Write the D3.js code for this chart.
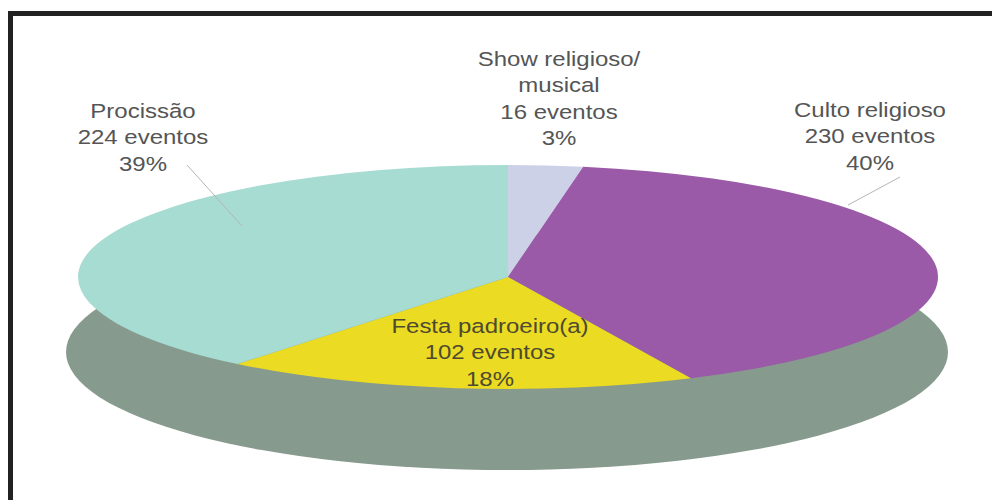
<!DOCTYPE html>
<html>
<head>
<meta charset="utf-8">
<script src="https://cdn.jsdelivr.net/npm/d3@7"></script>
<style>
  html, body { margin: 0; padding: 0; background: #fff; }
  svg { display: block; }
  text { font-family: "Liberation Sans", Arial, sans-serif; }
</style>
</head>
<body>
<svg id="chart" width="992" height="500"></svg>
<script>
// ---- Data ----
const categories = ["Show religioso/\nmusical", "Culto religioso", "Festa padroeiro(a)", "Procissão"];
const values = [16, 230, 102, 224];
const unitLabel = "eventos";
const colors = ["#cdd1e8", "#9a5aa8", "#ebdb22", "#a7dcd3"];

// ---- Layout ----
const W = 992, H = 500;
const svg = d3.select("#chart");
const cx = 508, cy = 277, rx = 430, ry = 112;
const side = { cx: 507, cy: 352, rx: 441, ry: 118, fill: "#879a8e" };

svg.append("rect").attr("width", W).attr("height", H).attr("fill", "#fff");

// frame
svg.append("path")
  .attr("d", `M10.5,${H + 5} L10.5,13.5 L${W + 5},13.5`)
  .attr("fill", "none").attr("stroke", "#222").attr("stroke-width", 5);

// side / base ellipse (3D thickness)
svg.append("ellipse")
  .attr("cx", side.cx).attr("cy", side.cy)
  .attr("rx", side.rx).attr("ry", side.ry)
  .attr("fill", side.fill);

// pie top
const total = d3.sum(values);
const pie = d3.pie().sort(null).value(d => d)(values);
const R = 100;
const arc = d3.arc().innerRadius(0).outerRadius(R);

const gPie = svg.append("g")
  .attr("transform", `translate(${cx},${cy}) scale(${rx / R},${ry / R})`);
gPie.selectAll("path").data(pie).enter().append("path")
  .attr("d", arc)
  .attr("fill", (d, i) => colors[i]);

// leader lines
const leaders = [
  null,
  [[900, 177], [848, 205]],
  null,
  [[187, 165], [242, 226]]
];
leaders.forEach(l => {
  if (!l) return;
  svg.append("line")
    .attr("x1", l[0][0]).attr("y1", l[0][1])
    .attr("x2", l[1][0]).attr("y2", l[1][1])
    .attr("stroke", "#b5b5b5").attr("stroke-width", 1);
});

// labels
const labelPos = [
  { x: 559, y: 66 },
  { x: 870, y: 117 },
  { x: 490, y: 333 },
  { x: 143, y: 118 }
];
const lineH = 26.5;
categories.forEach((c, i) => {
  const lines = c.split("\n")
    .concat([`${values[i]} ${unitLabel}`, `${Math.round(values[i] / total * 100)}%`]);
  const g = svg.append("g")
    .attr("transform", `translate(${labelPos[i].x},${labelPos[i].y}) scale(1.17,1)`);
  lines.forEach((t, j) => {
    g.append("text")
      .attr("x", 0).attr("y", j * lineH)
      .attr("text-anchor", "middle")
      .attr("font-size", 20.5)
      .attr("fill", i === 2 ? "#4e4a30" : "#555")
      .text(t);
  });
});
</script>
</body>
</html>
